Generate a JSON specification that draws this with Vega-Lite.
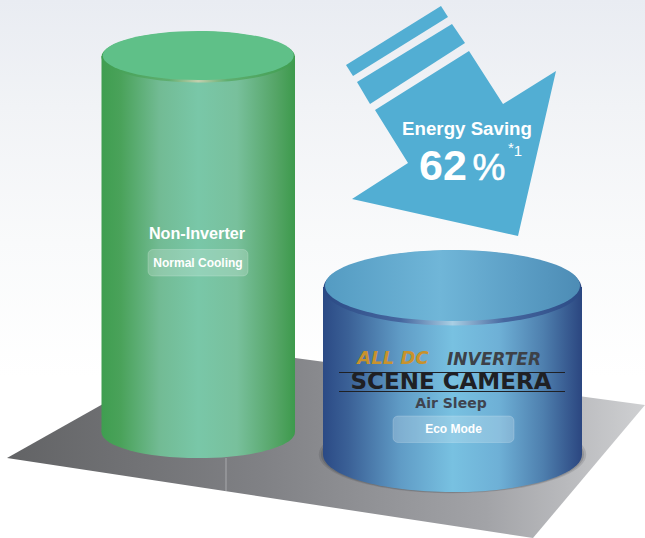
{
"$schema":"https://vega.github.io/schema/vega-lite/v6.json",
"width":645,"height":538,"padding":0,
"autosize":{"type":"fit","contains":"padding"},
"background":"#ffffff",
"view":{"stroke":null},
"config":{"text":{"font":"Liberation Sans","color":"#ffffff"}},
"datasets":{
"canvas":[{"x0":0,"x1":645,"y0":0,"y1":538}],
"floor":[{"i":1,"x":7,"y":458},{"i":2,"x":206,"y":346},{"i":3,"x":645,"y":405},{"i":4,"x":533,"y":538}],
"seam":[{"x":226,"y0":458,"y1":491}],
"arrow":[
{"part":"bar1","i":1,"x":441,"y":6},{"part":"bar1","i":2,"x":448,"y":17},{"part":"bar1","i":3,"x":353,"y":76},{"part":"bar1","i":4,"x":346,"y":65},
{"part":"bar2","i":1,"x":452,"y":24},{"part":"bar2","i":2,"x":465,"y":43},{"part":"bar2","i":3,"x":370,"y":104},{"part":"bar2","i":4,"x":357,"y":82},
{"part":"head","i":1,"x":469,"y":51},{"part":"head","i":2,"x":503,"y":104},{"part":"head","i":3,"x":556,"y":71},{"part":"head","i":4,"x":518,"y":236},{"part":"head","i":5,"x":352,"y":199},{"part":"head","i":6,"x":408,"y":163},{"part":"head","i":7,"x":375,"y":110}],
"cyl":[{"name":"green","cx":198.2,"x0":101.5,"x1":295,"top":56,"rim":57,"face":55.5,"base":432},
{"name":"blue","cx":452.5,"x0":323,"x1":582,"top":287,"rim":288,"face":285.5,"base":454.5}],
"pills":[{"label":"Normal Cooling","x0":148,"x1":248,"y0":249.5,"y1":276},{"label":"Eco Mode","x0":393,"x1":514,"y0":416,"y1":442.5}],
"rules":[{"x0":339,"x1":565,"y":372.5},{"x0":339,"x1":565,"y":391.5}]
},
"layer":[
{"data":{"name":"canvas"},"mark":{"type":"rect","fill":{"gradient":"linear","x1":0,"y1":0,"x2":0,"y2":1,"stops":[{"offset":0,"color":"#e9ecf2"},{"offset":0.2,"color":"#f1f3f6"},{"offset":0.45,"color":"#f9fafb"},{"offset":0.7,"color":"#ffffff"},{"offset":1,"color":"#ffffff"}]}},
"encoding":{"x":{"field":"x0","type":"quantitative","scale":{"domain":[0,645],"nice":false,"zero":false},"axis":null},"x2":{"field":"x1"},"y":{"field":"y0","type":"quantitative","scale":{"domain":[0,538],"reverse":true,"nice":false,"zero":false},"axis":null},"y2":{"field":"y1"}}},
{"data":{"name":"floor"},"mark":{"type":"line","filled":true,"stroke":null,"fill":{"gradient":"linear","x1":0,"y1":0,"x2":1,"y2":0,"stops":[{"offset":0,"color":"#626365"},{"offset":0.4,"color":"#808185"},{"offset":0.75,"color":"#a2a3a7"},{"offset":1,"color":"#cfd0d2"}]}},
"encoding":{"x":{"field":"x","type":"quantitative"},"y":{"field":"y","type":"quantitative"},"order":{"field":"i"}}},
{"data":{"name":"seam"},"mark":{"type":"rule","color":"#b4b5b7","strokeWidth":0.8},"encoding":{"x":{"field":"x","type":"quantitative"},"y":{"field":"y0","type":"quantitative"},"y2":{"field":"y1"}}},
{"data":{"name":"arrow"},"mark":{"type":"line","filled":true,"stroke":null,"fill":"#52aed3"},
"encoding":{"x":{"field":"x","type":"quantitative"},"y":{"field":"y","type":"quantitative"},"order":{"field":"i"},"detail":{"field":"part"}}},

{"data":{"name":"cyl"},"transform":[{"filter":"datum.name==='blue'"}],"mark":{"type":"point","filled":true,"opacity":0.12,"fill":"#1b1c20","stroke":null,"size":71500,"shape":"M-1,0A1,0.29 0 1 1 1,0A1,0.29 0 1 1 -1,0Z"},
"encoding":{"x":{"field":"cx","type":"quantitative"},"y":{"field":"base","type":"quantitative"}}},
{"data":{"name":"cyl"},"transform":[{"filter":"datum.name==='blue'"}],"mark":{"type":"point","filled":true,"opacity":0.16,"fill":"#1b1c20","stroke":null,"size":69200,"shape":"M-1,0A1,0.29 0 1 1 1,0A1,0.29 0 1 1 -1,0Z"},
"encoding":{"x":{"field":"cx","type":"quantitative"},"y":{"field":"base","type":"quantitative"}}},

{"data":{"name":"cyl"},"transform":[{"filter":"datum.name==='green'"}],"mark":{"type":"point","filled":true,"opacity":1,"stroke":null,"size":37442,"shape":"M-1,0A1,0.27 0 1 1 1,0A1,0.27 0 1 1 -1,0Z","fill":{"gradient":"linear","x1":0,"y1":0,"x2":1,"y2":0,"stops":[{"offset":0,"color":"#3f9e50"},{"offset":0.1,"color":"#4aa25a"},{"offset":0.3,"color":"#72bb94"},{"offset":0.5,"color":"#79c7a8"},{"offset":0.7,"color":"#78c09c"},{"offset":0.9,"color":"#55a567"},{"offset":1,"color":"#3d9a4c"}]}},
"encoding":{"x":{"field":"cx","type":"quantitative"},"y":{"field":"base","type":"quantitative"}}},
{"data":{"name":"cyl"},"transform":[{"filter":"datum.name==='green'"}],"mark":{"type":"rect","fill":{"gradient":"linear","x1":0,"y1":0,"x2":1,"y2":0,"stops":[{"offset":0,"color":"#3f9e50"},{"offset":0.1,"color":"#4aa25a"},{"offset":0.3,"color":"#72bb94"},{"offset":0.5,"color":"#79c7a8"},{"offset":0.7,"color":"#78c09c"},{"offset":0.9,"color":"#55a567"},{"offset":1,"color":"#3d9a4c"}]}},
"encoding":{"x":{"field":"x0","type":"quantitative"},"x2":{"field":"x1"},"y":{"field":"top","type":"quantitative"},"y2":{"field":"base"}}},
{"data":{"name":"cyl"},"transform":[{"filter":"datum.name==='green'"}],"mark":{"type":"point","filled":true,"opacity":1,"stroke":null,"size":37442,"shape":"M-1,0A1,0.263 0 1 1 1,0A1,0.263 0 1 1 -1,0Z","fill":{"gradient":"linear","x1":0,"y1":0,"x2":1,"y2":0,"stops":[{"offset":0,"color":"#3f9e50"},{"offset":0.35,"color":"#5fae70"},{"offset":0.5,"color":"#c4cfae"},{"offset":0.65,"color":"#5fae70"},{"offset":1,"color":"#3f9e50"}]}},
"encoding":{"x":{"field":"cx","type":"quantitative"},"y":{"field":"rim","type":"quantitative"}}},
{"data":{"name":"cyl"},"transform":[{"filter":"datum.name==='green'"}],"mark":{"type":"point","filled":true,"opacity":1,"stroke":null,"size":36481,"shape":"M-1,0A1,0.2565 0 1 1 1,0A1,0.2565 0 1 1 -1,0Z","fill":"#5fc088"},
"encoding":{"x":{"field":"cx","type":"quantitative"},"y":{"field":"face","type":"quantitative"}}},

{"data":{"name":"cyl"},"transform":[{"filter":"datum.name==='blue'"}],"mark":{"type":"point","filled":true,"opacity":1,"stroke":null,"size":67081,"shape":"M-1,0A1,0.29 0 1 1 1,0A1,0.29 0 1 1 -1,0Z","fill":{"gradient":"linear","x1":0,"y1":0,"x2":1,"y2":0,"stops":[{"offset":0,"color":"#2b4a85"},{"offset":0.1,"color":"#3b6197"},{"offset":0.3,"color":"#609cc6"},{"offset":0.5,"color":"#78c1e1"},{"offset":0.68,"color":"#6eb0d6"},{"offset":0.85,"color":"#4e7fae"},{"offset":1,"color":"#2b4680"}]}},
"encoding":{"x":{"field":"cx","type":"quantitative"},"y":{"field":"base","type":"quantitative"}}},
{"data":{"name":"cyl"},"transform":[{"filter":"datum.name==='blue'"}],"mark":{"type":"rect","fill":{"gradient":"linear","x1":0,"y1":0,"x2":1,"y2":0,"stops":[{"offset":0,"color":"#2b4a85"},{"offset":0.1,"color":"#3b6197"},{"offset":0.3,"color":"#609cc6"},{"offset":0.5,"color":"#78c1e1"},{"offset":0.68,"color":"#6eb0d6"},{"offset":0.85,"color":"#4e7fae"},{"offset":1,"color":"#2b4680"}]}},
"encoding":{"x":{"field":"x0","type":"quantitative"},"x2":{"field":"x1"},"y":{"field":"top","type":"quantitative"},"y2":{"field":"base"}}},
{"data":{"name":"cyl"},"transform":[{"filter":"datum.name==='blue'"}],"mark":{"type":"point","filled":true,"opacity":1,"stroke":null,"size":66564,"shape":"M-1,0A1,0.29 0 1 1 1,0A1,0.29 0 1 1 -1,0Z","fill":{"gradient":"linear","x1":0,"y1":0,"x2":1,"y2":0,"stops":[{"offset":0,"color":"#2b4a85"},{"offset":0.3,"color":"#46679f"},{"offset":0.5,"color":"#a9cfe4"},{"offset":0.7,"color":"#46679f"},{"offset":1,"color":"#2b4a85"}]}},
"encoding":{"x":{"field":"cx","type":"quantitative"},"y":{"field":"rim","type":"quantitative"}}},
{"data":{"name":"cyl"},"transform":[{"filter":"datum.name==='blue'"}],"mark":{"type":"point","filled":true,"opacity":1,"stroke":null,"size":65025,"shape":"M-1,0A1,0.278 0 1 1 1,0A1,0.278 0 1 1 -1,0Z","fill":{"gradient":"linear","x1":0,"y1":0,"x2":1,"y2":0,"stops":[{"offset":0,"color":"#549bc2"},{"offset":0.45,"color":"#70b6d8"},{"offset":0.75,"color":"#5c9fc6"},{"offset":1,"color":"#4d8cb5"}]}},
"encoding":{"x":{"field":"cx","type":"quantitative"},"y":{"field":"face","type":"quantitative"}}},

{"data":{"name":"pills"},"mark":{"type":"rect","fill":"#ffffff","fillOpacity":0.2,"stroke":"#ffffff","strokeOpacity":0.18,"strokeWidth":1,"cornerRadius":5},
"encoding":{"x":{"field":"x0","type":"quantitative"},"x2":{"field":"x1"},"y":{"field":"y0","type":"quantitative"},"y2":{"field":"y1"}}},
{"data":{"name":"rules"},"mark":{"type":"rule","color":"#1f2024","strokeWidth":1},
"encoding":{"x":{"field":"x0","type":"quantitative"},"x2":{"field":"x1"},"y":{"field":"y","type":"quantitative"}}},

{"data":{"values":[{"t":"Energy Saving","x":467,"y":129}]},"mark":{"type":"text","fontSize":18.7,"fontWeight":"bold","align":"center","baseline":"middle"},"encoding":{"text":{"field":"t"},"x":{"field":"x","type":"quantitative"},"y":{"field":"y","type":"quantitative"}}},
{"data":{"values":[{"t":"62","x":443,"y":167}]},"mark":{"type":"text","fontSize":43,"fontWeight":"bold","align":"center","baseline":"middle"},"encoding":{"text":{"field":"t"},"x":{"field":"x","type":"quantitative"},"y":{"field":"y","type":"quantitative"}}},
{"data":{"values":[{"t":"%","x":489,"y":169}]},"mark":{"type":"text","fontSize":37,"stroke":"#ffffff","strokeWidth":0.6,"align":"center","baseline":"middle"},"encoding":{"text":{"field":"t"},"x":{"field":"x","type":"quantitative"},"y":{"field":"y","type":"quantitative"}}},
{"data":{"values":[{"t":"*","x":511,"y":148},{"t":"1","x":518,"y":151}]},"mark":{"type":"text","fontSize":15,"align":"center","baseline":"middle"},"encoding":{"text":{"field":"t"},"x":{"field":"x","type":"quantitative"},"y":{"field":"y","type":"quantitative"}}},
{"data":{"values":[{"t":"Non-Inverter","x":197,"y":233.5}]},"mark":{"type":"text","fontSize":16.2,"fontWeight":"bold","align":"center","baseline":"middle"},"encoding":{"text":{"field":"t"},"x":{"field":"x","type":"quantitative"},"y":{"field":"y","type":"quantitative"}}},
{"data":{"values":[{"t":"Normal Cooling","x":198,"y":262.5},{"t":"Eco Mode","x":453.5,"y":429}]},"mark":{"type":"text","fontSize":12,"fontWeight":"bold","align":"center","baseline":"middle"},"encoding":{"text":{"field":"t"},"x":{"field":"x","type":"quantitative"},"y":{"field":"y","type":"quantitative"}}},
{"data":{"values":[{"t":"ALL DC","x":393,"y":359}]},"mark":{"type":"text","font":"DejaVu Sans","fontSize":18,"fontWeight":"bold","fontStyle":"italic","align":"center","baseline":"middle","color":"#c8922c"},"encoding":{"text":{"field":"t"},"x":{"field":"x","type":"quantitative"},"y":{"field":"y","type":"quantitative"}}},
{"data":{"values":[{"t":"INVERTER","x":494,"y":359.5}]},"mark":{"type":"text","font":"DejaVu Sans","fontSize":17,"fontWeight":"bold","fontStyle":"italic","align":"center","baseline":"middle","color":"#3d4148"},"encoding":{"text":{"field":"t"},"x":{"field":"x","type":"quantitative"},"y":{"field":"y","type":"quantitative"}}},
{"data":{"values":[{"t":"SCENE CAMERA","x":451,"y":382}]},"mark":{"type":"text","font":"DejaVu Sans","fontSize":23,"fontWeight":"bold","align":"center","baseline":"middle","color":"#1f2024"},"encoding":{"text":{"field":"t"},"x":{"field":"x","type":"quantitative"},"y":{"field":"y","type":"quantitative"}}},
{"data":{"values":[{"t":"Air Sleep","x":451,"y":404}]},"mark":{"type":"text","font":"DejaVu Sans","fontSize":14,"fontWeight":"bold","align":"center","baseline":"middle","color":"#3f4450"},"encoding":{"text":{"field":"t"},"x":{"field":"x","type":"quantitative"},"y":{"field":"y","type":"quantitative"}}}
]
}
